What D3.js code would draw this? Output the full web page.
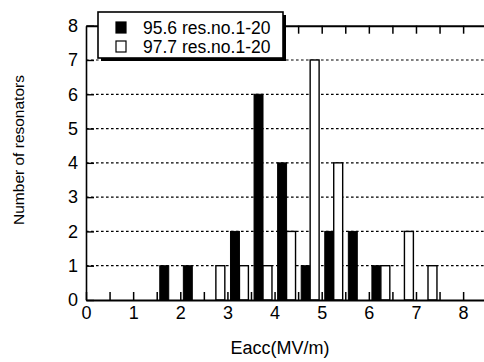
<!DOCTYPE html>
<html>
<head>
<meta charset="utf-8">
<script src="https://cdn.jsdelivr.net/npm/d3@7"></script>
<style>
  body { margin: 0; background: #fff; }
  svg { display: block; font-family: "Liberation Sans", Arial, sans-serif; }
</style>
</head>
<body>
<div id="chart"></div>
<script>
// bin start (MV/m), bins are 0.5 wide
const bins = [1.5, 2.0, 2.5, 3.0, 3.5, 4.0, 4.5, 5.0, 5.5, 6.0, 6.5, 7.0];
const res956 = [1, 1, 0, 2, 6, 4, 1, 2, 2, 1, 0, 0];
const res977 = [0, 0, 1, 1, 1, 2, 7, 4, 0, 1, 2, 1];
const seriesNames = ['95.6 res.no.1-20', '97.7 res.no.1-20'];
const yTicks = [0, 1, 2, 3, 4, 5, 6, 7, 8];

const W = 484, H = 362;
const svg = d3.select('#chart').append('svg')
  .attr('width', W).attr('height', H);

const x = d3.scaleLinear().domain([0, 8.5]).range([86, 86 + 8.5 * 47.14]);
const y = d3.scaleLinear().domain([0, 8]).range([300, 25.7]);

// dashed grid
svg.append('g')
  .selectAll('line')
  .data(yTicks.filter(d => d > 0 && d < 8))
  .join('line')
  .attr('x1', x(0)).attr('x2', x(8.5))
  .attr('y1', d => y(d)).attr('y2', d => y(d))
  .attr('stroke', '#000')
  .attr('stroke-width', 1.2)
  .attr('stroke-dasharray', '2.6,2.4');

// bars
const barW = 0.19;
const rows = bins.map((b, i) => ({ b, a: res956[i], c: res977[i] }));

svg.append('g')
  .selectAll('rect')
  .data(rows.filter(d => d.a > 0))
  .join('rect')
  .attr('x', d => x(d.b + 0.065))
  .attr('width', x(barW) - x(0))
  .attr('y', d => y(d.a))
  .attr('height', d => y(0) - y(d.a))
  .attr('fill', '#000')
  .attr('stroke', '#000')
  .attr('stroke-width', 1);

svg.append('g')
  .selectAll('rect')
  .data(rows.filter(d => d.c > 0))
  .join('rect')
  .attr('x', d => x(d.b + 0.065 + barW))
  .attr('width', x(barW) - x(0))
  .attr('y', d => y(d.c))
  .attr('height', d => y(0) - y(d.c))
  .attr('fill', '#fff')
  .attr('stroke', '#000')
  .attr('stroke-width', 1.4);

// axes, ticks point inward
const halfTicks = d3.range(0, 8.51, 0.5);

const xAxis = svg.append('g')
  .attr('transform', `translate(0,${y(0)})`)
  .call(d3.axisBottom(x).tickValues(halfTicks).tickSize(-8).tickSizeOuter(0)
    .tickFormat(d => Number.isInteger(d) ? d : ''));
xAxis.select('.domain').attr('stroke-width', 2.2);
xAxis.selectAll('.tick line').attr('stroke-width', 1.5);
xAxis.selectAll('.tick text')
  .attr('y', 6).attr('dy', '0.71em')
  .style('font-size', '18px').attr('fill', '#000');

const topAxis = svg.append('g')
  .attr('transform', `translate(0,${y(8)})`)
  .call(d3.axisTop(x).tickValues(halfTicks.filter(d => d > 0)).tickSize(-8).tickSizeOuter(0).tickFormat(''));
topAxis.select('.domain').attr('stroke-width', 2);
topAxis.selectAll('.tick line').attr('stroke-width', 1.5);

const yAxis = svg.append('g')
  .attr('transform', `translate(${x(0)},0)`)
  .call(d3.axisLeft(y).tickValues(yTicks).tickSize(-8).tickSizeOuter(0));
yAxis.select('.domain').attr('stroke-width', 1.6);
yAxis.selectAll('.tick line').attr('stroke-width', 1.4);
yAxis.selectAll('.tick text')
  .attr('x', -8)
  .style('font-size', '18px').attr('fill', '#000');

svg.selectAll('.tick text').attr('font-family', null);

// axis titles
svg.append('text')
  .attr('x', 280).attr('y', 354)
  .attr('text-anchor', 'middle')
  .style('font-size', '18px')
  .text('Eacc(MV/m)');

svg.append('text')
  .attr('transform', 'translate(24,150) rotate(-90)')
  .attr('text-anchor', 'middle')
  .style('font-size', '15.5px')
  .text('Number of resonators');

// legend box with drop shadow
const lg = svg.append('g').attr('transform', 'translate(98,12)');
lg.append('rect')
  .attr('x', 3).attr('y', 3).attr('width', 185).attr('height', 46)
  .attr('fill', '#000');
lg.append('rect')
  .attr('x', 0).attr('y', 0).attr('width', 185).attr('height', 46)
  .attr('fill', '#fff').attr('stroke', '#000').attr('stroke-width', 1.6);

const items = lg.selectAll('g.item')
  .data(seriesNames)
  .join('g')
  .attr('class', 'item')
  .attr('transform', (d, i) => `translate(0,${i * 19})`);
items.append('rect')
  .attr('x', 18).attr('y', 10).attr('width', 10).attr('height', 11)
  .attr('fill', (d, i) => i === 0 ? '#000' : '#fff')
  .attr('stroke', '#000').attr('stroke-width', 1.2);
items.append('text')
  .attr('x', 45).attr('y', 22)
  .style('font-size', '17.5px')
  .text(d => d);
</script>
</body>
</html>
